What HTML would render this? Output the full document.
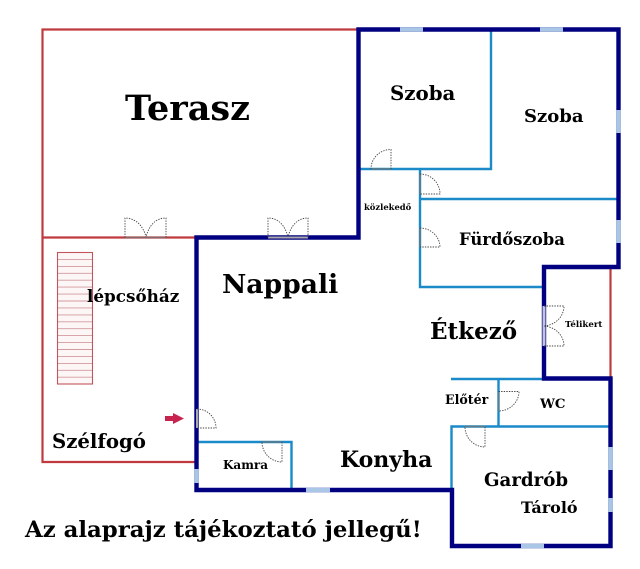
<!DOCTYPE html>
<html><head><meta charset="utf-8"><style>
html,body{margin:0;padding:0;background:#fff;width:640px;height:569px;overflow:hidden}
svg{display:block}
text{font-family:"DejaVu Serif","Liberation Serif",serif;font-weight:bold;fill:#000}
.d{fill:none;stroke:#444;stroke-width:.9;stroke-dasharray:1.4 1.2}
.b{stroke:#1a8ac8;stroke-width:2.4;fill:none}
.n{stroke:#000080;stroke-width:4.4;fill:none;stroke-linecap:square}
.r{stroke:#c0393f;stroke-width:2.2;fill:none}
.w{stroke:#a9c6e6;stroke-width:4.6;fill:none}
.g{stroke:#aaa;stroke-width:2;fill:none}
</style></head><body>
<svg width="640" height="569" viewBox="0 0 640 569" xmlns="http://www.w3.org/2000/svg">
<path class="r" d="M358 29.5H42.5V462H196M42.5 237.5H196M610.5 267V378"/>
<rect x="57.500" y="252.500" width="35" height="131.500" fill="#fdf6f6"/>
<path stroke="#d29a9d" stroke-width=".9" fill="none" d="M57.5 259.4H92.5M57.5 266.4H92.5M57.5 273.3H92.5M57.5 280.2H92.5M57.5 287.1H92.5M57.5 294.1H92.5M57.5 301H92.5M57.5 307.9H92.5M57.5 314.9H92.5M57.5 321.8H92.5M57.5 328.7H92.5M57.5 335.6H92.5M57.5 342.6H92.5M57.5 349.5H92.5M57.5 356.4H92.5M57.5 363.4H92.5M57.5 370.3H92.5M57.5 377.2H92.5"/>
<rect x="57.500" y="252.500" width="35" height="131.500" fill="none" stroke="#c0565c" stroke-width="1.100"/>
<path class="b" d="M491 30V169H360M420 169V287H543M420 199H618M451 379H545M498.5 379V427M451.5 490V426.5H610M198 442H291.5V490"/>
<path class="n" d="M196.5 490V237.5H358.5V29.5H618.5V267H544V378.5H610.5V546H452V490H196.5"/>
<path class="w" d="M400 29.5H423M540 29.5H563M618.5 110V133M618.5 220V243M610.5 447V470M610.5 498V512M521 546H544M306 490H330M196.5 469V483"/>
<path d="M544 306V346" stroke="#c4c4dc" stroke-width="3" fill="none"/>
<path class="g" d="M268 237.5H308M197 409V428"/>
<path d="M125 237.5H166M371 169H391M420 174V194M420 228V247M498.5 392V411M465 426.5H485M262 442H282" stroke="#777" stroke-width="1.6" fill="none" opacity=".8"/>
<path class="d" d="M125 237.5V218C135 218 143 225 146 237M166 237.5V218C156 218 149 225 146 237"/>
<path class="d" d="M268 237.5V218C278 218 285 225 288 237M308 237.5V218C298 218 291 225 288 237"/>
<path class="d" d="M391 169V149.500C380 149.500 371 158 371 169"/>
<path class="d" d="M420 174C431 174 440 183 440 194H420"/>
<path class="d" d="M420 228C431 228 440 237 440 247H420"/>
<path class="d" d="M197 409C208 409 216 418 216 428H197"/>
<path class="d" d="M282 442V462C271 462 262 453 262 442"/>
<path class="d" d="M498.500 391.500H519C519 402 510 411 498.500 411"/>
<path class="d" d="M485 427V447C474 447 465 438 465 427"/>
<path class="d" d="M544 306H564C564 316 556 325 544 326M544 346H564C564 336 556 327 544 326"/>
<path d="M165 416H173V413L184 418.500L173 424V421H165Z" fill="#c8234f"/>
<text x="125" y="120" font-size="35">Terasz</text>
<text x="390" y="100" font-size="19.800">Szoba</text>
<text x="524" y="122" font-size="18">Szoba</text>
<text x="364" y="210" font-size="8.400">közlekedő</text>
<text x="459" y="245" font-size="16.400">Fürdőszoba</text>
<text x="222" y="293" font-size="26.600">Nappali</text>
<text x="87" y="302" font-size="16.800">lépcsőház</text>
<text x="430" y="339" font-size="23">Étkező</text>
<text x="565" y="327" font-size="8.600">Télikert</text>
<text x="445" y="404" font-size="12.600">Előtér</text>
<text x="540" y="408" font-size="13.300">WC</text>
<text x="52" y="448" font-size="19.700">Szélfogó</text>
<text x="223" y="469" font-size="12">Kamra</text>
<text x="340" y="467" font-size="22">Konyha</text>
<text x="484" y="486" font-size="18.200">Gardrób</text>
<text x="521" y="513" font-size="16">Tároló</text>
<text x="25" y="537" font-size="22.800">Az alaprajz tájékoztató jellegű!</text>
</svg>
</body></html>
